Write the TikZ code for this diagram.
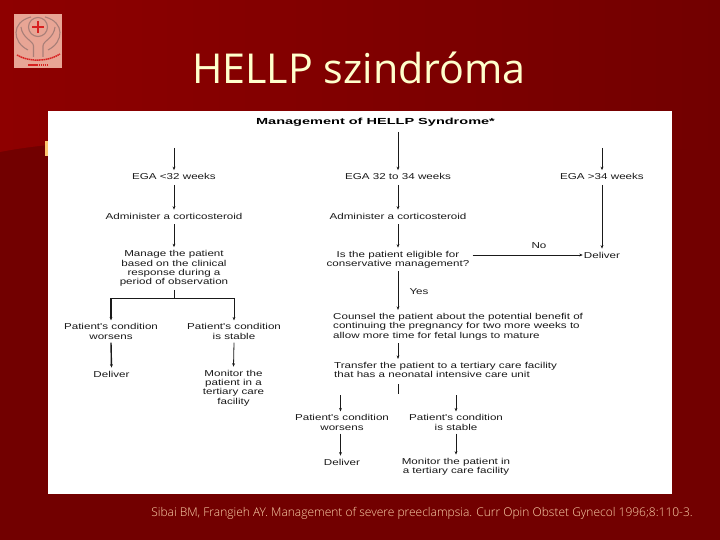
\documentclass[tikz,border=0pt]{standalone}
\usepackage{fontspec}
\setmainfont{Liberation Sans}
\newfontfamily\diagfont[FakeStretch=1.35]{Liberation Sans}
\newfontfamily\headfont[FakeStretch=1.65]{Liberation Sans}
\newfontfamily\titlefont{Open Sans}
\newfontfamily\citefont{Open Sans Light}
\definecolor{bgdark}{HTML}{720000}
\definecolor{bgred}{HTML}{8E0000}
\definecolor{cream}{HTML}{FFFFCC}
\definecolor{citecol}{HTML}{FFD4AC}
\definecolor{logobg}{HTML}{E8A595}
\definecolor{logoline}{HTML}{A87F78}
\definecolor{logored}{HTML}{D82020}
\definecolor{inkc}{HTML}{1A1A1A}
\tikzset{
  x=1pt,y=-1pt,
  txt/.style={font=\diagfont\fontsize{8.6}{9.4}\selectfont,text=inkc,inner xsep=1pt,inner ysep=3pt,align=center},
  arr/.style={draw=inkc,line width=0.8pt,-{Stealth[length=3.5pt,width=2.8pt]}},
  heavy/.style={arr,line width=1.4pt},
  plain/.style={draw=inkc,line width=0.9pt},
  logoring/.style={draw=logoline,line width=1.1pt}
}
\usetikzlibrary{arrows.meta}
\begin{document}
\begin{tikzpicture}
\useasboundingbox (0,0) rectangle (720,540);
% background
\fill[bgdark] (0,0) rectangle (720,540);
\shade[left color=bgred,right color=bgdark] (0,0) -- (720,0) -- (720,150) -- (48,145) .. controls (30,147) and (15,149) .. (0,152) -- cycle;
\fill[orange!45!cream] (45,141) rectangle (49,156);
% logo
\fill[logobg] (14,14.5) rectangle (62,68);
\draw[logoring] (33.5,57) -- (33.5,46) .. controls (33.5,41) and (22,38) .. (21,27);
\draw[logoring] (43,57) -- (43,46) .. controls (43,41) and (54,38) .. (55,27);
\draw[logoring] (28,50) .. controls (12,42) and (11,22) .. (31,17);
\draw[logoring] (48,50) .. controls (64,42) and (65,22) .. (45,17);
\draw[logoring] (38,27) circle (9.5);
\draw[logored,line width=2pt] (32,27) -- (44,27) (38,21) -- (38,33);
\draw[logored,line width=1.5pt,dash pattern=on 1.5pt off .6pt] (17,55) .. controls (28,62) and (48,62) .. (60,54);
\draw[logored,line width=1.2pt,dash pattern=on 1.5pt off .6pt] (28,65) -- (48,65);
% title
\node[font=\titlefont\fontsize{41.2}{46}\selectfont,text=cream,inner sep=0pt] (title) at (359,68) {HELLP szindróma};
% panel
\fill[white] (48,111) rectangle (672,494);
\node[font=\headfont\bfseries\fontsize{8.8}{10}\selectfont,text=black,inner sep=1pt] (head) at (375.5,122) {Management of HELLP Syndrome*};
% left column
\coordinate (l0) at (174,148);
\node[txt] (l1) at (174,176.5) {EGA <32 weeks};
\node[txt] (l2) at (174,216) {Administer a corticosteroid};
\node[txt] (l3) at (174,268.5) {Manage the patient\\based on the clinical\\response during a\\period of observation};
\node[txt] (lw) at (111,331.5) {Patient's condition\\worsens};
\node[txt] (ls) at (234,331.5) {Patient's condition\\is stable};
\node[txt] (ld) at (111.5,374) {Deliver};
\node[txt] (lm) at (233.5,388) {Monitor the\\patient in a\\tertiary care\\facility};
\coordinate (lb) at (174,298);
\coordinate (lbl) at (111,298);
\draw[arr] (l0) -- (l1.north);
\draw[arr] (l1.south) ++(0,2) -- (l2.north);
\draw[arr] (l2.south) ++(0,2) -- (l3.north);
\draw[plain] (l3.south) -- (lb);
\draw[plain] (lb) -- (lbl);
\draw[heavy] (lbl) -- (lw.north);
\draw[arr] (lb) -| (ls.north);
\draw[heavy] (lw.south) -- (ld.north);
\draw[arr] (ls.south) -- (lm.north);
% middle column
\coordinate (m0) at (398,132);
\node[txt] (m1) at (398,176.5) {EGA 32 to 34 weeks};
\node[txt] (m2) at (398,216) {Administer a corticosteroid};
\node[txt] (m3) at (398,259.5) {Is the patient eligible for\\conservative management?};
\node[txt] (yes) at (419,292) {Yes};
\node[txt] (no) at (539,246) {No};
\node[txt,align=left,anchor=west] (m4) at (332,326.5) {Counsel the patient about the potential benefit of\\continuing the pregnancy for two more weeks to\\allow more time for fetal lungs to mature};
\node[txt,align=left,anchor=west] (m5) at (333,370) {Transfer the patient to a tertiary care facility\\that has a neonatal intensive care unit};
\node[txt] (mw) at (342,422.5) {Patient's condition\\worsens};
\node[txt] (ms) at (456,422.5) {Patient's condition\\is stable};
\node[txt] (md) at (342,462) {Deliver};
\node[txt] (mm) at (456,466.5) {Monitor the patient in\\a tertiary care facility};
\coordinate (mwt) at (340.5,395);
\coordinate (mst) at (456,395);
\draw[arr] (m0) -- (m1.north);
\draw[arr] (m1.south) ++(0,2) -- (m2.north);
\draw[arr] (m2.south) ++(0,2) -- (m3.north);
\draw[arr] (m3.south) -- (m3.south |- m4.north);
\draw[arr] (m3.south |- m4.south) -- (m3.south |- m5.north);
\draw[plain] (m3.south |- m5.south) ++(0,3) -- ++(0,10);
\draw[arr] (mwt) -- (mwt |- mw.north);
\draw[arr] (mst) -- (ms.north);
\draw[arr] (mw.south -| mwt) -- (mwt |- md.north);
\draw[arr] (ms.south) -- (mm.north);
% right column
\coordinate (r0) at (602,148);
\node[txt] (r1) at (602,176.5) {EGA >34 weeks};
\node[txt] (r2) at (602,255) {Deliver};
\draw[arr] (r0) -- (r1.north);
\draw[arr] (r1.south) ++(0,2) -- (r2.north);
\draw[arr] (m3.east) ++(2,-4.5) -- (r2.west);
% citation
\node[font=\citefont\fontsize{12}{13}\selectfont,text=citecol,inner sep=0pt] (cite) at (422,513) {Sibai BM, Frangieh AY. Management of severe preeclampsia. Curr Opin Obstet Gynecol 1996;8:110-3.};
\end{tikzpicture}
\end{document}
